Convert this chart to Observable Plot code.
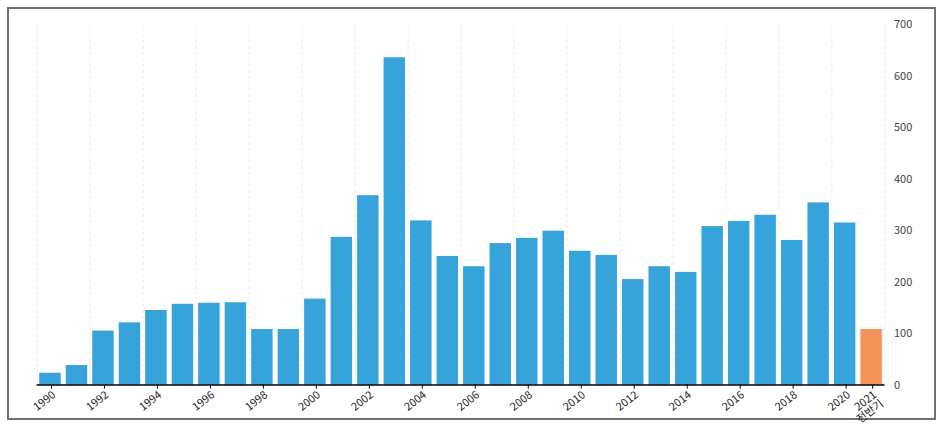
<!DOCTYPE html>
<html>
<head>
<meta charset="utf-8">
<script src="https://cdn.jsdelivr.net/npm/d3@7"></script>
<script src="https://cdn.jsdelivr.net/npm/@observablehq/plot@0.6"></script>
<style>
  html, body { margin: 0; padding: 0; background: #fff; }
  #frame { position: absolute; left: 7px; top: 7px; width: 925px; height: 409px; border: 2px solid #707070; }
  #frame svg { display: block; overflow: visible; }
</style>
</head>
<body>
<div id="frame"></div>
<script>
const years = ["1990","1991","1992","1993","1994","1995","1996","1997","1998","1999",
  "2000","2001","2002","2003","2004","2005","2006","2007","2008","2009",
  "2010","2011","2012","2013","2014","2015","2016","2017","2018","2019","2020","2021"];
const values = [23, 38, 105, 121, 145, 157, 159, 160, 108, 108,
  167, 287, 368, 636, 319, 250, 230, 275, 285, 299,
  260, 252, 205, 230, 219, 308, 318, 330, 281, 354, 315, 108];
const partialYear = "2021";
const partialLabel = "2021\n전반기";
const tickYears = ["1990","1992","1994","1996","1998","2000","2002","2004","2006","2008","2010","2012","2014","2016","2018","2020","2021"];
const gridYears = ["1990","1992","1994","1996","1998","2000","2002","2004","2006","2008","2010","2012","2014","2016","2018","2020"];
const yTicks = [0, 100, 200, 300, 400, 500, 600, 700];

const data = years.map((y, i) => ({year: y, value: values[i], partial: y === partialYear}));

const W = 925, H = 409, ML = 27.6, MR = 49.5, MT = 15.3, MB = 33.4;
const padInner = 0.19, padOuter = 0.1;
const step = (W - ML - MR) / (years.length - padInner + 2 * padOuter);

const chart = Plot.plot({
  width: W,
  height: H,
  marginLeft: ML,
  marginRight: MR,
  marginTop: MT,
  marginBottom: MB,
  style: {fontFamily: "'Noto Sans CJK KR', 'Noto Sans', sans-serif", fontSize: "11px", background: "#fff"},
  x: {domain: years, paddingInner: padInner, paddingOuter: padOuter, round: false},
  y: {domain: [0, 700]},
  marks: [
    Plot.ruleX(gridYears, {x: d => d, y1: 0, y2: 700, dx: -step / 2, stroke: "#ececec", strokeDasharray: "3,3"}),
    Plot.ruleX([partialYear], {x: d => d, y1: 0, y2: 700, dx: step / 2, stroke: "#ececec", strokeDasharray: "3,3"}),
    Plot.barY(data, {x: "year", y: "value", fill: d => d.partial ? "#f5935b" : "#36a3db"}),
    Plot.ruleY([0], {stroke: "#000", strokeWidth: 1.5}),
    Plot.axisX({
      ticks: tickYears,
      tickFormat: d => d === partialYear ? partialLabel : d,
      tickSize: 4,
      tickRotate: -38,
      tickPadding: 1,
      textAnchor: "end",
      lineAnchor: "top",
      dx: 1,
      fontSize: 11,
      fill: "#222",
      label: null
    }),
    Plot.axisY({
      anchor: "right",
      ticks: yTicks,
      tickSize: 0,
      tickPadding: 9,
      fill: "#444",
      label: null
    })
  ]
});
document.getElementById("frame").appendChild(chart);
</script>
</body>
</html>
